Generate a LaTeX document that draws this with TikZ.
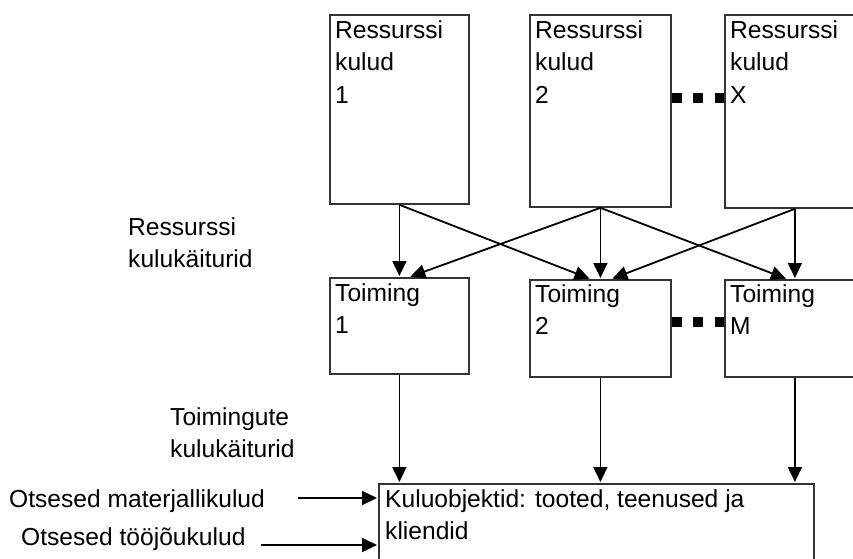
\documentclass[tikz,border=0pt]{standalone}
\usepackage{fontspec}
\setmainfont{Liberation Sans}
\usetikzlibrary{arrows.meta}
\begin{document}
\begin{tikzpicture}[x=1pt,y=-1pt,
  box/.style={draw=black!80, line width=1.8pt, rectangle, inner sep=0pt, anchor=north west},
  lbl/.style={anchor=north west, inner sep=0pt, align=left, font=\fontsize{24.6}{32.5}\selectfont},
  arr/.style={line width=1.8pt, -{Triangle[length=15pt,width=14pt]}, shorten >=1pt},
  dotconn/.style={line width=10pt, dash pattern=on 10pt off 11.5pt}]
\useasboundingbox (0,0) rectangle (853,558);
\clip (0,0) rectangle (853,558);
% resource cost boxes
\node[box, minimum width=139pt, minimum height=189pt] (r1) at (329,14) {};
\node[box, minimum width=141pt, minimum height=192pt] (r2) at (529,14) {};
\node[box, minimum width=140pt, minimum height=193pt] (r3) at (724,14) {};
% activity boxes
\node[box, minimum width=139pt, minimum height=96pt] (t1) at (329,277) {};
\node[box, minimum width=141pt, minimum height=97pt] (t2) at (529,279) {};
\node[box, minimum width=140pt, minimum height=97pt] (t3) at (724,279) {};
% cost objects
\node[box, minimum width=435pt, minimum height=137pt] (kb) at (378,483) {};
% texts in boxes
\node[lbl] (r1t) at (335,20) {Ressurssi\\kulud\\1};
\node[lbl] (r2t) at (535,20) {Ressurssi\\kulud\\2};
\node[lbl] (r3t) at (730,20) {Ressurssi\\kulud\\X};
\node[lbl] (t1t) at (335,283) {Toiming\\1};
\node[lbl] (t2t) at (535,284) {Toiming\\2};
\node[lbl] (t3t) at (730,284) {Toiming\\M};
\node[lbl] (kbt) at (385,489) {Kuluobjektid: tooted, teenused ja\\kliendid};
% side labels
\node[lbl] (rk) at (128,217) {Ressurssi\\kulukäiturid};
\node[lbl] (tk) at (170,407) {Toimingute\\kulukäiturid};
\node[lbl, anchor=base west] (om) at (9,507) {Otsesed materjallikulud};
\node[lbl, anchor=base west] (ot) at (21,545) {Otsesed tööjõukulud};
% dotted connectors
\coordinate (d1) at (0,98);
\coordinate (d2) at (0,321.5);
\draw[dotconn] (r2.east |- d1) -- (r3.west |- d1);
\draw[dotconn] (t2.east |- d2) -- (t3.west |- d2);
% resource drivers
\draw[arr] (r1.south) -- (t1.north);
\draw[arr] (r1.south) -- ([xshift=-10pt]t2.north);
\draw[arr] (r2.south) -- ([xshift=10pt]t1.north);
\draw[arr] (r2.south) -- (t2.north);
\draw[arr] (r2.south) -- ([xshift=-8pt]t3.north);
\draw[arr] (r3.south) -- ([xshift=11pt]t2.north);
\draw[arr] (r3.south) -- (t3.north);
% activity drivers
\draw[arr] (t1.south) -- (t1.south |- kb.north);
\draw[arr] (t2.south) -- (t2.south |- kb.north);
\draw[arr] (t3.south) -- (t3.south |- kb.north);
% direct costs
\coordinate (om0) at (298,498);
\coordinate (ot0) at (261,545);
\draw[arr] (om0) -- (om0 -| kb.west);
\draw[arr] (ot0) -- (ot0 -| kb.west);
\end{tikzpicture}
\end{document}
